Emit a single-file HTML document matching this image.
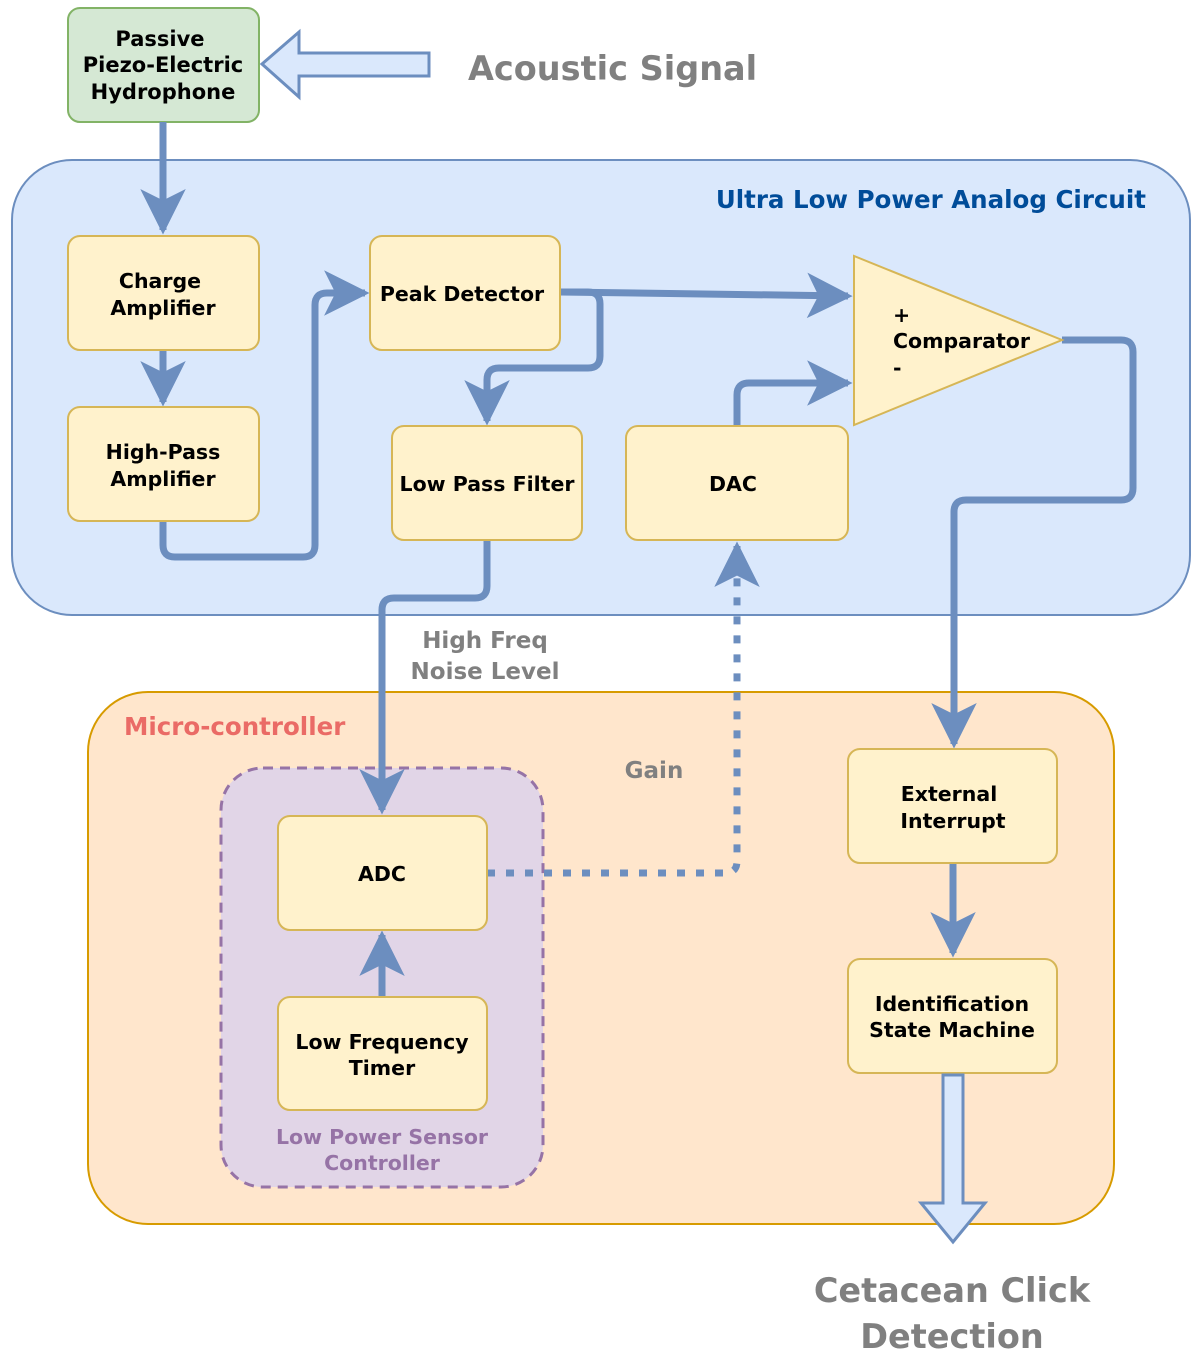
<!DOCTYPE html>
<html><head><meta charset="utf-8"><style>
html,body{margin:0;padding:0;background:#fff;}
svg text{font-family:"DejaVu Sans","Liberation Sans",sans-serif;font-weight:bold;}
</style></head><body>
<svg width="1200" height="1360" viewBox="0 0 1200 1360" xmlns="http://www.w3.org/2000/svg">
<defs>
<marker id="a" viewBox="0 0 10 10" refX="9" refY="5" markerWidth="6.5" markerHeight="6.5" markerUnits="strokeWidth" orient="auto">
<path d="M0,0 L10,5 L0,10 L2.5,5 Z" fill="#6c8ebf"/></marker>
</defs>
<rect x="12" y="160" width="1178" height="455" rx="60" fill="#dae8fc" stroke="#6c8ebf" stroke-width="2"/>
<rect x="88" y="692" width="1026" height="532" rx="60" fill="#ffe6cc" stroke="#d79b00" stroke-width="2"/>
<rect x="221" y="768" width="322" height="419" rx="42" fill="#e1d5e7" stroke="#9673a6" stroke-width="3" stroke-dasharray="10,7"/>
<rect x="68" y="8" width="191" height="114" rx="12" fill="#d5e8d4" stroke="#82b366" stroke-width="2"/>
<g font-size="21" fill="#000" text-anchor="middle">
<text x="160" y="46">Passive</text><text x="163" y="72">Piezo-Electric</text><text x="163" y="99">Hydrophone</text>
</g>
<path d="M262,64 L299,32 L299,53 L429,53 L429,76 L299,76 L299,97 Z" fill="#dae8fc" stroke="#6c8ebf" stroke-width="3"/>
<text x="468" y="80" font-size="33.5" fill="#808080">Acoustic Signal</text>
<text x="1146" y="208" font-size="24.5" fill="#004c99" text-anchor="end">Ultra Low Power Analog Circuit</text>
<text x="124" y="735" font-size="24.5" fill="#ea6b66">Micro-controller</text>
<g fill="none" stroke="#6c8ebf" stroke-width="7" stroke-linejoin="round">
<path d="M163,122 L163,230" marker-end="url(#a)"/>
<path d="M163,350 L163,402" marker-end="url(#a)"/>
<path d="M163,521 L163,545 Q163,557 175,557 L303,557 Q315,557 315,545 L315,305 Q315,293 327,293 L365,293" marker-end="url(#a)"/>
<path d="M560,292 L848,296" marker-end="url(#a)"/>
<path d="M560,292 L588,292 Q600,292 600,304 L600,356 Q600,368 588,368 L499,368 Q487,368 487,380 L487,421" marker-end="url(#a)"/>
<path d="M737,426 L737,395 Q737,383 749,383 L848,383" marker-end="url(#a)"/>
<path d="M1062,340 L1121,340 Q1133,340 1133,352 L1133,488 Q1133,500 1121,500 L966,500 Q954,500 954,512 L954,744" marker-end="url(#a)"/>
<path d="M487,540 L487,586 Q487,598 475,598 L394,598 Q382,598 382,610 L382,810" marker-end="url(#a)"/>
<path d="M382,997 L382,935" marker-end="url(#a)"/>
<path d="M953,863 L953,953" marker-end="url(#a)"/>
<path d="M487,873 L725,873 Q737,873 737,861 L737,546" stroke-dasharray="8,11" stroke-linejoin="miter" marker-end="url(#a)"/>
</g>
<g fill="#fff2cc" stroke="#d6b656" stroke-width="2">
<rect x="68" y="236" width="191" height="114" rx="12"/>
<rect x="68" y="407" width="191" height="114" rx="12"/>
<rect x="370" y="236" width="190" height="114" rx="12"/>
<rect x="392" y="426" width="190" height="114" rx="12"/>
<rect x="626" y="426" width="222" height="114" rx="12"/>
<rect x="278" y="816" width="209" height="114" rx="12"/>
<rect x="278" y="997" width="209" height="113" rx="12"/>
<rect x="848" y="749" width="209" height="114" rx="12"/>
<rect x="848" y="959" width="209" height="114" rx="12"/>
<path d="M854,256 L854,425 L1062,340 Z"/>
</g>
<g font-size="20.5" fill="#000" text-anchor="middle">
<text x="160" y="288">Charge</text><text x="163" y="315">Amplifier</text>
<text x="163" y="459">High-Pass</text><text x="163" y="486">Amplifier</text>
<text x="462" y="301">Peak Detector</text>
<text x="487" y="491">Low Pass Filter</text>
<text x="733" y="491">DAC</text>
<text x="382" y="881">ADC</text>
<text x="382" y="1049">Low Frequency</text><text x="382" y="1075">Timer</text>
<text x="949" y="801">External</text><text x="953" y="828">Interrupt</text>
<text x="952" y="1011">Identification</text><text x="952" y="1037">State Machine</text>
</g>
<g font-size="20.5" fill="#000">
<text x="893" y="322">+</text><text x="893" y="348">Comparator</text><text x="893" y="375">-</text>
</g>
<g font-size="23" fill="#808080" text-anchor="middle">
<text x="485" y="648">High Freq</text><text x="485" y="679">Noise Level</text>
<text x="654" y="778">Gain</text>
</g>
<g font-size="20.5" fill="#9673a6" text-anchor="middle">
<text x="382" y="1144">Low Power Sensor</text><text x="382" y="1170">Controller</text>
</g>
<path d="M943,1075 L963,1075 L963,1203 L985,1203 L953,1242 L921,1203 L943,1203 Z" fill="#dae8fc" stroke="#6c8ebf" stroke-width="3"/>
<g font-size="33.5" fill="#808080" text-anchor="middle">
<text x="952" y="1302">Cetacean Click</text><text x="952" y="1348">Detection</text>
</g>
</svg>
</body></html>
